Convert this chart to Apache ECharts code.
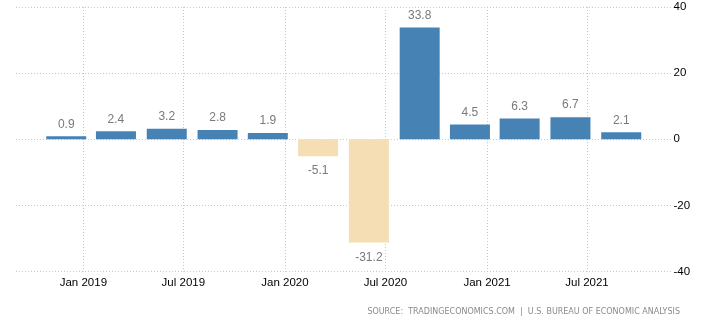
<!DOCTYPE html>
<html>
<head>
<meta charset="utf-8">
<script src="https://cdn.jsdelivr.net/npm/echarts@6/dist/echarts.min.js"></script>
<style>
html,body{margin:0;padding:0;background:#fff;}
#chart{width:705px;height:322px;}
</style>
</head>
<body>
<div id="chart"></div>
<script>
// Quarter dates (TradingEconomics style: first day of last month of quarter)
var quarterDates = ['2018-12-01','2019-03-01','2019-06-01','2019-09-01','2019-12-01','2020-03-01','2020-06-01','2020-09-01','2020-12-01','2021-03-01','2021-06-01','2021-09-01'];
var gdpGrowth = [0.9, 2.4, 3.2, 2.8, 1.9, -5.1, -31.2, 33.8, 4.5, 6.3, 6.7, 2.1];
var tickDates = ['2019-01-01','2019-07-01','2020-01-01','2020-07-01','2021-01-01','2021-07-01'];
var tickLabels = ['Jan 2019','Jul 2019','Jan 2020','Jul 2020','Jan 2021','Jul 2021'];
var xRange = ['2018-09-01', '2021-12-01'];
var yTicks = [-40, -20, 0, 20, 40];
var sourceText = 'SOURCE:  TRADINGECONOMICS.COM  |  U.S. BUREAU OF ECONOMIC ANALYSIS';

function ts(s){ var p = s.split('-'); return Date.UTC(+p[0], +p[1] - 1, +p[2]); }
var tickValues = tickDates.map(ts);

var chart = echarts.init(document.getElementById('chart'), null, {renderer:'canvas'});
var data = quarterDates.map(function(d, i){
  var v = gdpGrowth[i];
  return {
    value: [ts(d), v],
    itemStyle: {color: v >= 0 ? '#4682B4' : '#F5DEB3'},
    label: v >= 0 ? {position: 'top', distance: 6} : {position: 'bottom', distance: 9}
  };
});

chart.setOption({
  animation: false,
  backgroundColor: '#fff',
  grid: {left: 16, right: 33.5, top: 7, bottom: 50.4, containLabel: false},
  xAxis: {
    type: 'value',
    min: ts(xRange[0]),
    max: ts(xRange[1]),
    axisLine: {show: false},
    axisTick: {show: true, customValues: tickValues, length: 4, lineStyle: {color: '#c8c8c8', type: [1, 2]}},
    axisLabel: {
      customValues: tickValues,
      color: '#000',
      fontFamily: 'Liberation Sans',
      fontSize: 11.5,
      margin: 5,
      formatter: function(val){
        var i = tickValues.indexOf(+val);
        return i >= 0 ? tickLabels[i] : '';
      }
    },
    splitLine: {show: true, lineStyle: {color: '#c8c8c8', type: [1, 2], width: 1}}
  },
  yAxis: {
    type: 'value',
    position: 'right',
    min: yTicks[0],
    max: yTicks[yTicks.length - 1],
    interval: 20,
    axisLine: {show: false},
    axisTick: {show: false},
    axisLabel: {color: '#000', fontFamily: 'Liberation Sans', fontSize: 11.5, margin: 2},
    splitLine: {show: true, lineStyle: {color: '#c8c8c8', type: [1, 2], width: 1}}
  },
  series: [{
    type: 'bar',
    barWidth: 40,
    data: data,
    label: {
      show: true,
      color: '#7a7a7a',
      fontFamily: 'Liberation Sans',
      fontSize: 12,
      formatter: function(p){ return p.value[1].toFixed(1); }
    }
  }],
  graphic: [{
    type: 'text',
    right: 25,
    top: 308,
    style: {text: sourceText, fill: '#8a8a8a', font: '8px "DejaVu Sans"'}
  }]
});
</script>
</body>
</html>
